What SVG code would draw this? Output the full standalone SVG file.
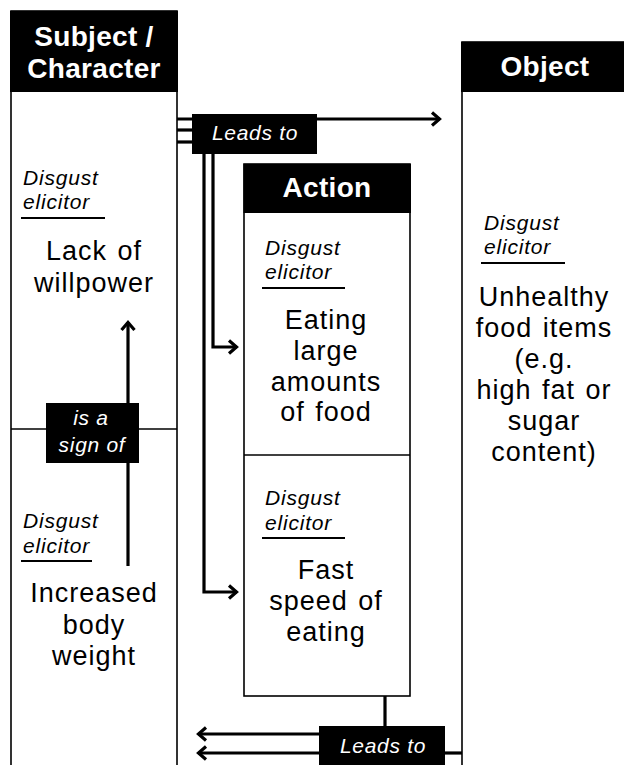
<svg xmlns="http://www.w3.org/2000/svg" width="624" height="765" viewBox="0 0 624 765">
<defs>
<style>
.box{fill:#fff;stroke:#000;stroke-width:1.6}
.hdr{fill:#000}
.ht{font-family:"Liberation Sans",Arial,sans-serif;font-weight:bold;font-size:28px;fill:#fff;text-anchor:middle;letter-spacing:0.3px}
.lab{font-family:"Liberation Sans",Arial,sans-serif;font-style:italic;font-size:21px;fill:#000;letter-spacing:0.8px}
.body{font-family:"Liberation Sans",Arial,sans-serif;font-size:27px;fill:#000;text-anchor:middle;letter-spacing:1px;word-spacing:2px}
.rel{font-family:"Liberation Sans",Arial,sans-serif;font-style:italic;font-size:21px;fill:#fff;text-anchor:middle;letter-spacing:0.7px}
.ul{stroke:#000;stroke-width:2}
.div{stroke:#000;stroke-width:1.6}
.con{fill:none;stroke:#000;stroke-width:3.2}
.arr{fill:none;stroke:#000;stroke-width:3.2;marker-end:url(#chev)}
</style>
<marker id="chev" viewBox="0 0 14 16" refX="11" refY="8" markerWidth="14" markerHeight="16" markerUnits="userSpaceOnUse" orient="auto">
<path d="M3,1.5 L10.5,8 L3,14.5" fill="none" stroke="#000" stroke-width="3.2"/>
</marker>
</defs>

<g id="subject">
<rect class="box" x="11" y="11" width="166" height="770"/>
<rect class="hdr" x="10" y="11" width="168" height="81"/>
<text class="ht" x="94" y="46">Subject /</text>
<text class="ht" x="94" y="78">Character</text>
<line class="div" x1="11" y1="429" x2="177" y2="429"/>
<text class="lab" x="23" y="185">Disgust</text>
<text class="lab" x="23" y="209">elicitor</text>
<line class="ul" x1="21" y1="218" x2="105" y2="218"/>
<text class="body" x="94" y="260">Lack of</text>
<text class="body" x="94" y="292">willpower</text>
<text class="lab" x="23" y="528">Disgust</text>
<text class="lab" x="23" y="553">elicitor</text>
<line class="ul" x1="21" y1="561" x2="92" y2="561"/>
<text class="body" x="94" y="602">Increased</text>
<text class="body" x="94" y="634">body</text>
<text class="body" x="94" y="665">weight</text>
</g>

<g id="action">
<rect class="box" x="244" y="164" width="166" height="532"/>
<rect class="hdr" x="243.5" y="164" width="167.5" height="49"/>
<text class="ht" x="327" y="197">Action</text>
<line class="div" x1="244" y1="455" x2="410" y2="455"/>
<text class="lab" x="265" y="255">Disgust</text>
<text class="lab" x="265" y="279">elicitor</text>
<line class="ul" x1="262" y1="288" x2="345" y2="288"/>
<text class="body" x="326" y="329">Eating</text>
<text class="body" x="326" y="360">large</text>
<text class="body" x="326" y="391">amounts</text>
<text class="body" x="326" y="421">of food</text>
<text class="lab" x="265" y="505">Disgust</text>
<text class="lab" x="265" y="530">elicitor</text>
<line class="ul" x1="262" y1="538" x2="345" y2="538"/>
<text class="body" x="326" y="579">Fast</text>
<text class="body" x="326" y="610">speed of</text>
<text class="body" x="326" y="641">eating</text>
</g>

<g id="object">
<rect class="box" x="462" y="42" width="180" height="740"/>
<rect class="hdr" x="461" y="42" width="170" height="50"/>
<text class="ht" x="545" y="76">Object</text>
<text class="lab" x="484" y="230">Disgust</text>
<text class="lab" x="484" y="254">elicitor</text>
<line class="ul" x1="481" y1="263" x2="565" y2="263"/>
<text class="body" x="544" y="306">Unhealthy</text>
<text class="body" x="544" y="337">food items</text>
<text class="body" x="544" y="368">(e.g.</text>
<text class="body" x="544" y="399">high fat or</text>
<text class="body" x="544" y="430">sugar</text>
<text class="body" x="544" y="461">content)</text>
</g>

<g id="connectors">
<line class="con" x1="177" y1="130" x2="200" y2="130"/>
<line class="con" x1="177" y1="142" x2="200" y2="142"/>
<line class="arr" x1="177" y1="119" x2="440" y2="119"/>
<path class="arr" d="M213,150 V347 H237"/>
<path class="arr" d="M204,150 V592 H237"/>
<line class="arr" x1="128" y1="566" x2="128" y2="322"/>
<line class="con" x1="385" y1="696" x2="385" y2="730"/>
<line class="arr" x1="330" y1="734" x2="198" y2="734"/>
<line class="arr" x1="330" y1="753" x2="198" y2="753"/>
<line class="con" x1="440" y1="753" x2="462" y2="753"/>
</g>

<g id="rel-leads-top">
<rect class="hdr" x="192" y="114" width="125" height="40"/>
<text class="rel" x="255" y="140">Leads to</text>
</g>

<g id="rel-sign">
<rect class="hdr" x="46" y="403" width="93" height="60"/>
<text class="rel" x="91" y="425">is a</text>
<text class="rel" x="92" y="452">sign of</text>
</g>

<g id="rel-leads-bottom">
<rect class="hdr" x="319" y="726" width="126" height="45"/>
<text class="rel" x="383" y="753">Leads to</text>
</g>
</svg>
